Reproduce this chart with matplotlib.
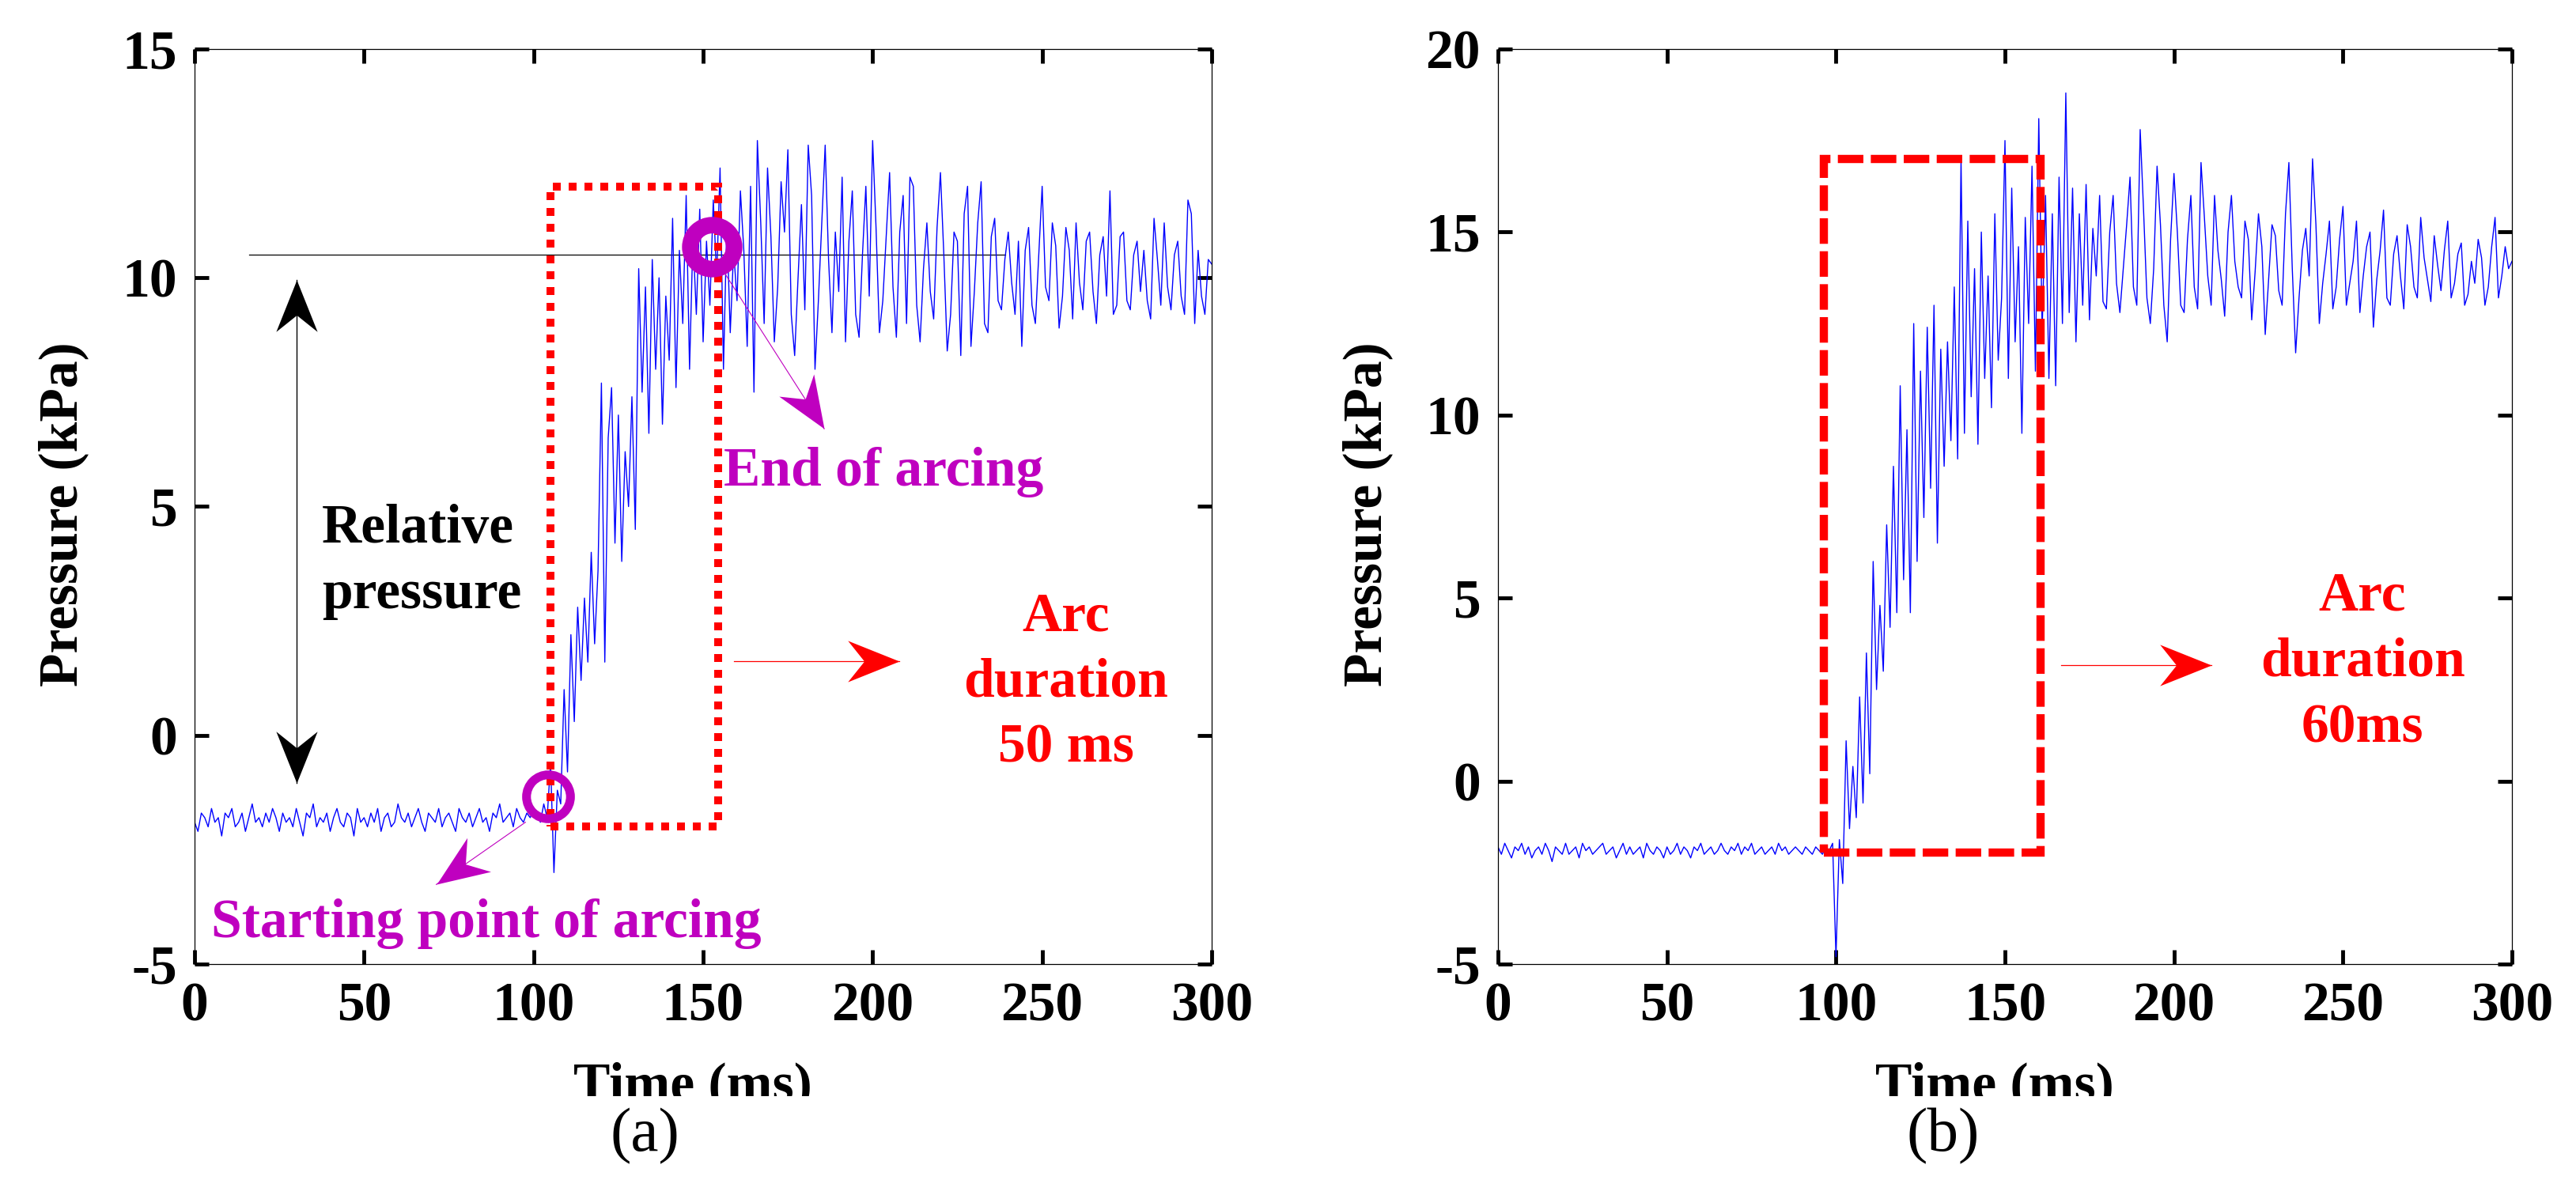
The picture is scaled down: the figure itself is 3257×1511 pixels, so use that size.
import numpy as np
import matplotlib
matplotlib.use('Agg')
import matplotlib.pyplot as plt
from matplotlib.path import Path
from matplotlib.markers import MarkerStyle
from matplotlib.transforms import Affine2D
from matplotlib.patches import Rectangle

# ---------------- data ----------------
time_a = np.arange(0, 301)  # ms
pressure_a = [
    -1.9, -2.1, -1.7, -1.8, -2.0, -1.6, -1.9, -1.8, -2.2, -1.7,
    -1.8, -1.6, -2.0, -1.9, -1.7, -2.1, -1.8, -1.5, -1.9, -1.8,
    -2.0, -1.7, -1.9, -1.6, -1.8, -2.1, -1.7, -1.9, -1.8, -2.0,
    -1.6, -1.9, -2.2, -1.7, -1.8, -1.5, -2.0, -1.8, -1.9, -1.7,
    -2.1, -1.8, -1.6, -1.9, -2.0, -1.7, -1.8, -2.2, -1.6, -1.9,
    -1.8, -2.0, -1.7, -1.9, -1.6, -2.1, -1.8, -1.7, -2.0, -1.9,
    -1.5, -1.8, -1.9, -1.7, -2.0, -1.8, -1.6, -1.9, -2.1, -1.7,
    -1.8, -1.9, -1.6, -2.0, -1.8, -1.7, -1.9, -2.1, -1.6, -1.8,
    -1.9, -1.7, -2.0, -1.8, -1.6, -1.9, -1.8, -2.1, -1.7, -1.8,
    -1.5, -1.9, -1.8, -1.7, -2.0, -1.6, -1.8, -1.9, -1.7, -1.8,
    -1.6, -1.7, -1.9, -1.5, -1.8, -0.6, -3.0, -1.2, -1.5, 1.0,
    -0.8, 2.2, 0.3, 2.8, 1.2, 3.0, 1.6, 4.0, 2.0, 3.6,
    7.7, 1.6, 6.5, 7.6, 4.2, 7.0, 3.8, 6.2, 5.0, 7.4,
    4.5, 10.2, 7.5, 9.8, 6.6, 10.4, 8.0, 10.0, 6.8, 9.6,
    8.2, 11.3, 7.6, 10.6, 9.0, 11.8, 8.0, 10.9, 9.2, 11.5,
    8.6, 10.8, 9.4, 11.7, 10.0, 12.4, 8.0, 11.2, 8.8, 10.6,
    9.5, 11.9, 10.6, 8.5, 12.0, 7.5, 13.0, 11.2, 9.0, 12.4,
    10.9, 8.6, 9.8, 12.1, 11.0, 12.8, 9.2, 8.3, 10.0, 11.6,
    9.3, 12.9, 11.8, 8.0, 9.5, 11.2, 12.9, 10.4, 8.8, 11.0,
    9.7, 12.2, 8.6, 10.8, 11.9, 9.2, 8.7, 10.5, 12.0, 9.6,
    13.0, 11.1, 8.8, 9.5, 10.9, 12.3, 9.8, 8.7, 11.0, 11.8,
    9.0, 12.2, 12.0, 9.4, 8.6, 10.2, 11.2, 9.7, 9.1, 11.1,
    12.3, 10.5, 8.4, 9.2, 11.0, 10.8, 8.3, 11.4, 12.0, 8.5,
    9.7, 11.2, 12.1, 9.0, 8.8, 10.9, 11.3, 9.5, 9.3, 10.4,
    11.0, 9.9, 9.2, 10.8, 8.5, 10.6, 11.1, 9.4, 9.0, 10.5,
    12.0, 9.8, 9.5, 11.2, 10.7, 8.9, 9.6, 11.1, 10.6, 9.1,
    11.2, 9.9, 9.3, 10.8, 11.0, 9.7, 9.0, 10.5, 10.9, 9.6,
    11.9, 9.2, 9.4, 10.9, 11.0, 9.5, 9.3, 10.5, 10.8, 9.7,
    10.6, 9.5, 9.1, 11.3, 10.4, 9.4, 11.2, 9.8, 9.3, 10.5,
    10.8, 9.6, 9.2, 11.7, 11.4, 9.0, 10.6, 9.6, 9.2, 10.4,
    10.3,
]

time_b = np.arange(0, 301)  # ms
pressure_b = [
    -1.8, -2.0, -1.7, -1.9, -2.1, -1.8, -1.9, -1.7, -2.0, -1.8,
    -2.1, -1.9, -1.8, -2.0, -1.7, -1.9, -2.2, -1.8, -1.9, -2.0,
    -1.7, -2.0, -1.9, -1.8, -2.1, -1.7, -1.9, -1.8, -2.0, -1.9,
    -1.8, -1.7, -2.0, -1.9, -1.8, -2.1, -1.9, -1.7, -2.0, -1.8,
    -2.0, -1.9, -1.8, -2.1, -1.7, -1.9, -2.0, -1.8, -1.9, -2.1,
    -1.8, -2.0, -1.9, -1.7, -2.0, -1.8, -1.9, -2.1, -1.8, -1.9,
    -1.7, -2.0, -1.9, -1.8, -2.0, -1.9, -1.7, -1.9, -2.0, -1.8,
    -1.9, -1.7, -2.0, -1.8, -1.9, -1.7, -2.0, -1.9, -1.8, -2.0,
    -1.9, -1.8, -2.0, -1.7, -1.9, -1.8, -2.0, -1.9, -1.8, -1.9,
    -2.0, -1.8, -1.9, -2.0, -1.8, -1.9, -2.0, -1.8, -1.9, -1.7,
    -4.8, -1.6, -2.8, 1.1, -1.3, 0.4, -1.0, 2.3, -0.6, 3.5,
    0.2, 6.0, 2.5, 4.8, 3.0, 7.0, 4.2, 8.6, 4.6, 10.8,
    5.5, 9.6, 4.6, 12.5, 6.0, 11.2, 7.2, 12.4, 8.0, 13.0,
    6.5, 11.8, 8.6, 12.0, 9.3, 13.5, 8.8, 17.0, 9.5, 15.3,
    10.5, 14.0, 9.2, 15.0, 11.0, 13.8, 10.2, 15.5, 11.5, 13.2,
    17.5, 11.0, 16.2, 12.0, 14.6, 9.5, 15.4, 12.5, 16.8, 11.2,
    18.1, 12.3, 16.0, 11.0, 15.5, 10.8, 16.5, 12.5, 18.8, 12.8,
    16.2, 12.0, 15.5, 13.0, 16.3, 12.6, 15.1, 13.8, 16.0, 13.1,
    12.9, 15.0, 16.0, 13.6, 12.8, 14.0, 15.2, 16.5, 13.5, 13.0,
    17.8, 15.6, 13.2, 12.5, 14.0, 16.8, 15.2, 13.0, 12.0, 14.8,
    16.6, 15.0, 13.0, 12.8, 14.8, 16.0, 13.5, 12.9, 16.9, 15.4,
    13.8, 13.0, 16.0, 14.5, 13.7, 12.7, 15.0, 16.0, 14.2, 13.5,
    13.2, 15.3, 14.8, 12.6, 13.9, 15.5, 14.6, 12.2, 13.7, 15.2,
    14.9, 13.4, 13.0, 15.5, 16.9, 14.0, 11.7, 13.2, 14.5, 15.1,
    13.8, 17.0, 15.2, 12.5, 13.6, 14.4, 15.3, 12.9, 13.5, 14.8,
    15.7, 13.0, 13.6, 14.2, 15.3, 12.8, 13.8, 14.6, 15.0, 12.4,
    13.7, 14.5, 15.6, 13.2, 13.0, 14.4, 14.9, 13.8, 12.9, 15.2,
    14.6, 13.5, 13.2, 15.4, 14.3, 13.7, 13.1, 14.9, 14.1, 13.4,
    14.5, 15.3, 13.2, 13.6, 14.4, 14.7, 13.0, 13.3, 14.2, 13.6,
    14.8, 14.3, 13.0, 13.5, 14.6, 15.4, 13.2, 13.8, 14.6, 14.0,
    14.2,
]

xticks = [0, 50, 100, 150, 200, 250, 300]
yticks_a = [-5, 0, 5, 10, 15]
yticks_b = [-5, 0, 5, 10, 15, 20]

# annotation geometry (data units)
arc_box_a = (105.0, 154.5, -2.0, 12.0)     # x0, x1, y0, y1
arc_box_b = (96.5, 160.5, -1.95, 17.0)
ref_level_a = 10.5
ref_span_a = (16.0, 239.0)
start_pt_a = (104.3, -1.34)
end_pt_a = (152.6, 10.67)

# ---------------- style ----------------
plt.rcParams['font.family'] = ['Liberation Serif', 'DejaVu Serif']
plt.rcParams['font.weight'] = 'bold'
plt.rcParams['axes.unicode_minus'] = False

BLUE = '#0000FF'
RED = '#FF0000'
MAGENTA = '#BF00BF'
FS = 50
LS = 1.39
HEAD_MS = 94


def head_marker(angle_deg, half_w=0.4, notch=0.68):
    verts = [(0, 0), (-1, half_w), (-notch, 0), (-1, -half_w), (0, 0)]
    codes = [Path.MOVETO, Path.LINETO, Path.LINETO, Path.LINETO, Path.CLOSEPOLY]
    return MarkerStyle(Path(verts, codes), transform=Affine2D().rotate_deg(angle_deg))


def add_arrow(ax, start, tip, color, lw=1.0, both=False):
    ax.plot([start[0], tip[0]], [start[1], tip[1]], color=color, lw=lw, zorder=5)
    p0 = ax.transData.transform(start)
    p1 = ax.transData.transform(tip)
    ang = np.degrees(np.arctan2(p1[1] - p0[1], p1[0] - p0[0]))
    ax.plot([tip[0]], [tip[1]], ls='none', marker=head_marker(ang), ms=HEAD_MS,
            color=color, mew=0, zorder=6)
    if both:
        ax.plot([start[0]], [start[1]], ls='none', marker=head_marker(ang + 180), ms=HEAD_MS,
                color=color, mew=0, zorder=6)


def style_axes(ax, ylim, yticks):
    ax.set_xlim(0, 300)
    ax.set_ylim(*ylim)
    ax.set_xticks(xticks)
    ax.set_yticks(yticks)
    ax.tick_params(direction='in', top=True, right=True, length=13, width=3.5,
                   labelsize=FS, pad=16, colors='black')
    for s in ax.spines.values():
        s.set_linewidth(0.9)
        s.set_color('black')
    ax.set_xlabel('Time (ms)', fontsize=FS, fontweight='bold')
    ax.xaxis.set_label_coords(0.49, -0.1487)
    ax.xaxis.label.set_va('baseline')
    ax.set_ylabel('Pressure (kPa)', fontsize=FS, fontweight='bold')
    ax.yaxis.set_label_coords(-0.129, 0.492)
    ax.yaxis.label.set_va('center')


fig = plt.figure(figsize=(32.57, 15.11), dpi=100)
fig.patch.set_facecolor('white')
axa = fig.add_axes([0.07553, 0.19325, 0.39484, 0.76572])
axb = fig.add_axes([0.58152, 0.19325, 0.39362, 0.76572])

style_axes(axa, (-5, 15), yticks_a)
style_axes(axb, (-5, 20), yticks_b)

# ---------------- panel (a) ----------------
axa.plot([ref_span_a[0], ref_span_a[1]], [ref_level_a, ref_level_a], color='black', lw=0.9, zorder=1)
axa.plot(time_a, pressure_a, color=BLUE, lw=1.0, zorder=2)
x0, x1, y0, y1 = arc_box_a
axa.add_patch(Rectangle((x0, y0), x1 - x0, y1 - y0, fill=False, ec=RED, lw=7.2,
                        ls=(0, (1, 1)), capstyle='butt', zorder=4))
axa.plot([start_pt_a[0]], [start_pt_a[1]], 'o', ms=40, mfc='none', mec=MAGENTA, mew=8, zorder=7)
axa.plot([end_pt_a[0]], [end_pt_a[1]], 'o', ms=40, mfc='none', mec=MAGENTA, mew=15, zorder=7)

add_arrow(axa, (30.0, -1.04), (30.0, 9.95), 'black', lw=1.0, both=True)
add_arrow(axa, (155.5, 10.2), (185.7, 6.7), MAGENTA, lw=0.8)
add_arrow(axa, (97.6, -1.9), (71.3, -3.26), MAGENTA, lw=0.8)
add_arrow(axa, (159.0, 1.62), (207.8, 1.62), RED, lw=0.9)

# multi-line texts are anchored at the baseline of their last line
axa.text(37.5, 2.78, 'Relative\npressure', fontsize=FS, fontweight='bold', color='black',
         ha='left', va='baseline', multialignment='left', linespacing=LS, zorder=8)
axa.text(156.0, 5.45, 'End of arcing', fontsize=FS, fontweight='bold', color=MAGENTA,
         ha='left', va='baseline', zorder=8)
axa.text(5.0, -4.41, 'Starting point of arcing', fontsize=FS, fontweight='bold', color=MAGENTA,
         ha='left', va='baseline', zorder=8)
axa.text(257.0, -0.58, 'Arc\nduration\n50 ms', fontsize=FS, fontweight='bold', color=RED,
         ha='center', va='baseline', multialignment='center', linespacing=LS, zorder=8)

# ---------------- panel (b) ----------------
axb.plot(time_b, pressure_b, color=BLUE, lw=1.0, zorder=2)
x0, x1, y0, y1 = arc_box_b
axb.add_patch(Rectangle((x0, y0), x1 - x0, y1 - y0, fill=False, ec=RED, lw=7.5,
                        ls=(0, (3.1, 0.9)), capstyle='butt', zorder=4))
add_arrow(axb, (166.5, 3.16), (211.0, 3.16), RED, lw=0.9)
axb.text(255.8, 1.07, 'Arc\nduration\n60ms', fontsize=FS, fontweight='bold', color=RED,
         ha='center', va='baseline', multialignment='center', linespacing=LS, zorder=8)

# clipped bottoms of the axis titles (as in the reference) and panel letters
for xl, xr in [(690, 1070), (2330, 2720)]:
    fig.add_artist(Rectangle((xl / 3257, 1 - 1430 / 1511), (xr - xl) / 3257, 44 / 1511,
                             transform=fig.transFigure, fc='white', ec='none', zorder=3))
fig.text(0.2505, 0.0490, '(a)', ha='center', va='center', fontsize=57, fontweight='normal', zorder=5)
fig.text(0.7544, 0.0490, '(b)', ha='center', va='center', fontsize=57, fontweight='normal', zorder=5)

fig.savefig('out.png', dpi=100, facecolor='white')
